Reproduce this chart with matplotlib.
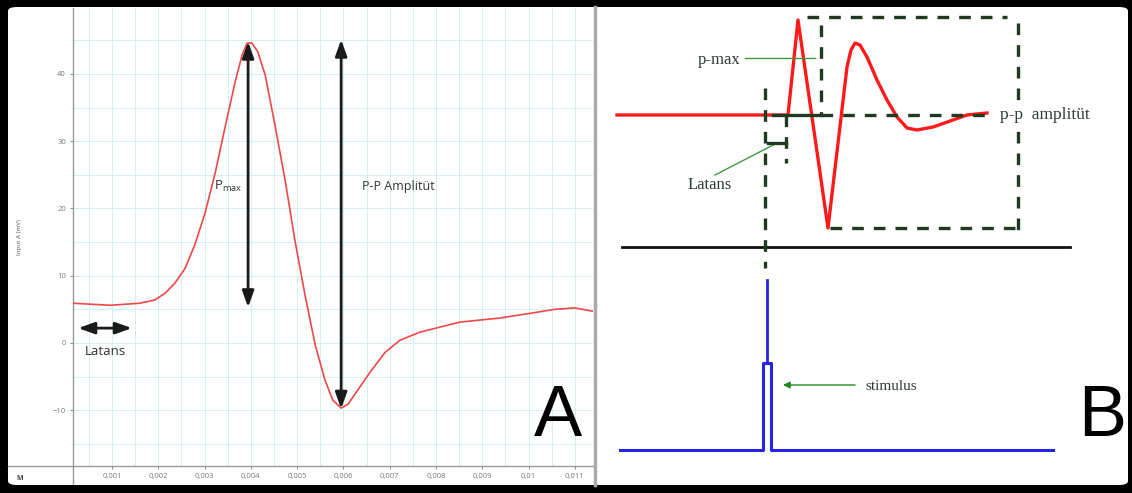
import matplotlib.pyplot as plt
import matplotlib.patches as mpatches
from matplotlib.lines import Line2D

plt.rcParams['font.family'] = ['Open Sans', 'DejaVu Sans']

W, H = 1132, 493

# ====== Panel A: recorded response (s, mV) ======
a_time = [0.00016, 0.00096, 0.0016, 0.00193, 0.00215, 0.00236, 0.00258, 0.00279,
          0.00301, 0.00323, 0.00344, 0.00366, 0.00381, 0.00392, 0.00402, 0.00415,
          0.00431, 0.00452, 0.00474, 0.00495, 0.00517, 0.00539, 0.0056, 0.00577,
          0.00595, 0.0061, 0.00631, 0.00657, 0.0069, 0.00722, 0.00765, 0.00852,
          0.00938, 0.01003, 0.01057, 0.011, 0.01139]
a_volt = [5.9, 5.6, 5.9, 6.4, 7.4, 8.9, 11.1, 14.6,
          19.3, 25.3, 32.0, 38.8, 42.8, 44.6, 44.6, 43.3,
          39.8, 32.4, 24.2, 15.3, 7.1, -0.3, -5.5, -8.5,
          -9.7, -9.1, -7.0, -4.4, -1.4, 0.4, 1.6, 3.1,
          3.7, 4.4, 5.0, 5.2, 4.7]
a_xticks = [0.001, 0.002, 0.003, 0.004, 0.005, 0.006, 0.007, 0.008, 0.009, 0.01, 0.011]
a_xticklabels = ["0,001", "0,002", "0,003", "0,004", "0,005", "0,006",
                 "0,007", "0,008", "0,009", "0,01", "0,011"]
a_yticks = [-10, 0, 10, 20, 30, 40]

# markers in panel A (time, volt)
pmax_t, pmax_top, pmax_bottom = 0.00394, 44.8, 5.3
pp_t, pp_top, pp_bottom = 0.00595, 45.1, -9.8
lat_t0, lat_t1, lat_v = 0.00027, 0.00143, 2.2

# ====== Panel B: schematic (ms, a.u.) ======
b_resp_t = [-15, 2.1, 3.1, 6.1, 8.0, 8.4, 8.8, 9.3, 10.0, 11.0, 12.0, 13.0,
            14.0, 15.0, 16.6, 18.6, 20.0, 22.0]
b_resp_v = [0, 0, 9.5, -11.3, 4.8, 6.5, 7.2, 7.0, 5.8, 3.5, 1.5, -0.2,
            -1.3, -1.5, -1.2, -0.5, 0.0, 0.2]
b_base_t = [-14.5, 30.3]
b_base_v = [-13.2, -13.2]
b_stim_t = [-14.7, -0.4, -0.4, 0.4, 0.4, 28.6]
b_stim_v = [-33.5, -33.5, -24.8, -24.8, -33.5, -33.5]
b_spike_t = [0, 0]
b_spike_v = [-24.8, -16.5]
# dashed guide lines ((t0, v0), (t1, v1))
b_dashes = [((-0.2, 2.7), (-0.2, -15.3)),
            ((5.4, 9.0), (5.4, 0.0)),
            ((4.0, 9.8), (24.0, 9.8)),
            ((25.1, 9.2), (25.1, -11.5)),
            ((6.3, -11.3), (25.1, -11.3)),
            ((5.4, 0.0), (22.0, 0.0)),
            ((1.9, 0.0), (1.9, -4.8))]
b_solid = [((0.6, 0.0), (5.4, 0.0)),
           ((0.1, -2.8), (1.9, -2.8))]

fig = plt.figure(figsize=(W / 100, H / 100), dpi=100)
fig.patch.set_facecolor('black')

def fx(px):
    return px / W

def fy(py):
    return 1 - py / H

# white card with rounded corners
card = mpatches.FancyBboxPatch((fx(8), fy(485)), fx(1120), 478 / H,
                               boxstyle="round,pad=0,rounding_size=0.008",
                               transform=fig.transFigure, facecolor='white',
                               edgecolor='none', zorder=-10)
fig.patches.append(card)

# ====== Panel A ======
axA = fig.add_axes([fx(73), fy(466), fx(520), 458 / H])
axA.set_xlim(0.000158, 0.01139)
axA.set_ylim(-18.3, 49.8)
axA.set_facecolor('white')
for x in [i * 0.0005 for i in range(1, 23)]:
    axA.axvline(x, color='#d3f1f1', lw=0.7, zorder=0)
for y in range(-15, 50, 5):
    axA.axhline(y, color='#d3f1f1', lw=0.7, zorder=0)
axA.plot(a_time, a_volt, color='#ee4848', lw=1.2, zorder=3, solid_joinstyle='round')

arrow = dict(arrowstyle='<|-|>,head_length=0.7,head_width=0.25', color='#1a1a1a', lw=2,
             mutation_scale=14, shrinkA=0, shrinkB=0)
axA.annotate('', xy=(pmax_t, pmax_top), xytext=(pmax_t, pmax_bottom), arrowprops=arrow, zorder=4)
axA.annotate('', xy=(pp_t, pp_top), xytext=(pp_t, pp_bottom), arrowprops=arrow, zorder=4)
axA.annotate('', xy=(lat_t0, lat_v), xytext=(lat_t1, lat_v), arrowprops=arrow, zorder=4)
axA.text(0.00085, -1.3, 'Latans', fontsize=9.5, color='#333333', ha='center', va='center')
axA.text(0.00383, 23.3, r'P$_{\mathregular{max}}$', fontsize=9.5, color='#333333',
         ha='right', va='center')
axA.text(0.00718, 23.3, 'P-P Amplitüt', fontsize=9, color='#333333', ha='center', va='center')

axA.set_xticks(a_xticks)
axA.set_xticklabels(a_xticklabels)
axA.set_yticks(a_yticks)
axA.tick_params(axis='both', labelsize=5.5, colors='#777777', length=2, width=0.6, pad=3)
for s in ['top', 'right']:
    axA.spines[s].set_visible(False)
for s in ['left', 'bottom']:
    axA.spines[s].set_color('#999999')
    axA.spines[s].set_linewidth(1)
axA.set_ylabel('Input A (mV)', fontsize=4.5, color='#555555', labelpad=22)

# frame lines of the software window
fig.add_artist(Line2D([fx(73), fx(73)], [fy(466), fy(484)], color='#999999', lw=1))
fig.add_artist(Line2D([fx(8), fx(73)], [fy(466), fy(466)], color='#999999', lw=1))
fig.add_artist(Line2D([fx(595), fx(595)], [fy(7), fy(485)], color='#aaaaaa', lw=2.5))
fig.text(fx(20), fy(478), 'M', fontsize=5, color='#444444', ha='center', va='center',
         fontweight='bold')

fig.text(fx(558), fy(417), 'A', fontsize=52, color='black', ha='center', va='center',
         family=['Liberation Sans', 'DejaVu Sans'])

# ====== Panel B ======
# 10 px per unit, stimulus at x=767, response baseline at y=115
axB = fig.add_axes([fx(600), fy(485), fx(527), 478 / H])
axB.set_xlim(-16.7, 36.0)
axB.set_ylim(-37.0, 10.8)
axB.axis('off')

axB.plot(b_resp_t, b_resp_v, color='#ff1a1a', lw=2.4, zorder=3, solid_joinstyle='round')
axB.plot(b_base_t, b_base_v, color='#111111', lw=2, zorder=2)
axB.plot(b_stim_t, b_stim_v, color='#2424e6', lw=2.2, zorder=2)
axB.plot(b_spike_t, b_spike_v, color='#2424e6', lw=2, zorder=2)

for (t0, v0), (t1, v1) in b_dashes:
    axB.plot([t0, t1], [v0, v1], color='#1f3a1f', lw=2.4, ls=(0, (3.5, 3)), zorder=4)
for (t0, v0), (t1, v1) in b_solid:
    axB.plot([t0, t1], [v0, v1], color='#1f3a1f', lw=2.4, zorder=4)

serif = ['Liberation Serif', 'DejaVu Serif']
green = '#3c9c3c'
axB.plot([-2.2, 4.8], [5.7, 5.7], color=green, lw=1, zorder=3)
axB.text(-2.7, 5.5, 'p-max', fontsize=12, color='#2f3a3a', ha='right', va='center', family=serif)
axB.plot([-5.2, 1.0], [-6.0, -2.8], color=green, lw=1, zorder=3)
axB.text(-5.7, -7.0, 'Latans', fontsize=12, color='#2f3a3a', ha='center', va='center', family=serif)
axB.text(23.3, 0.0, 'p-p  amplitüt', fontsize=12.5, color='#2f3a3a', ha='left', va='center',
         family=serif, zorder=5,
         bbox=dict(facecolor='white', edgecolor='none', pad=0.5))
axB.annotate('', xy=(1.6, -27.0), xytext=(8.8, -27.0),
             arrowprops=dict(arrowstyle='-|>', color='#1f8a1f', lw=1, mutation_scale=10,
                             shrinkA=0, shrinkB=0))
axB.text(9.8, -27.2, 'stimulus', fontsize=11, color='#2f3a3a', ha='left', va='center',
         family=serif)

fig.text(fx(1102), fy(418), 'B', fontsize=52, color='black', ha='center', va='center',
         family=['Liberation Sans', 'DejaVu Sans'])

fig.savefig('out.png', dpi=100, facecolor=fig.get_facecolor())
